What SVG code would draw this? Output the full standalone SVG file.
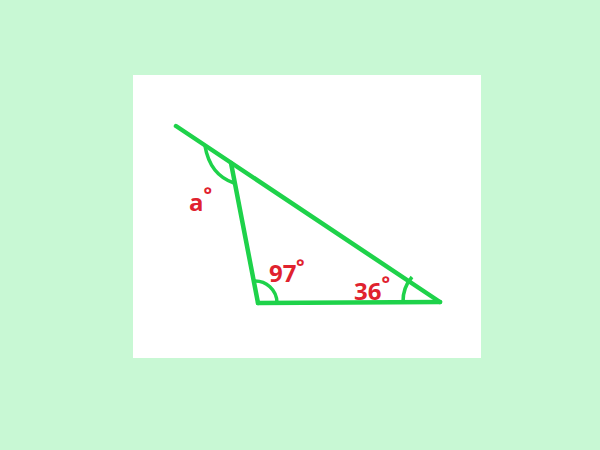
<svg xmlns="http://www.w3.org/2000/svg" width="600" height="450" viewBox="0 0 600 450">
<style>
.ln{stroke:#1ed24a;stroke-width:4.5;fill:none;stroke-linecap:round;stroke-linejoin:round}
.arc{stroke:#1ed24a;stroke-width:3.5;fill:none}
.lb{font-family:"Open Sans","DejaVu Sans",sans-serif;font-weight:bold;font-size:24px;fill:#e0222e}
.dg{font-family:"Open Sans","DejaVu Sans",sans-serif;font-weight:bold;font-size:20px;fill:#e0222e}
</style>
<rect width="600" height="450" fill="#c8f8d4"/>
<rect x="133" y="75" width="348" height="283" fill="#ffffff"/>
<g id="connectors">
<line class="ln" x1="176" y1="126" x2="440" y2="302"/>
<line class="ln" x1="231" y1="163" x2="258" y2="303"/>
<line class="ln" x1="258" y1="303" x2="440" y2="302"/>
</g>
<g id="angle-a">
<path class="arc" d="M205,146 Q210,175 234,183"/>
<text class="lb" x="189" y="211">a</text>
<text class="dg" x="203.5" y="202">°</text>
</g>
<g id="angle-97">
<path class="arc" d="M253,281 A22,22 0 0 1 277,303"/>
<text class="lb" x="269" y="282">97</text>
<text class="dg" x="296" y="274">°</text>
</g>
<g id="angle-36">
<path class="arc" d="M412,277 A37,37 0 0 0 403,302"/>
<text class="lb" x="354" y="300">36</text>
<text class="dg" x="381.5" y="291">°</text>
</g>
</svg>
